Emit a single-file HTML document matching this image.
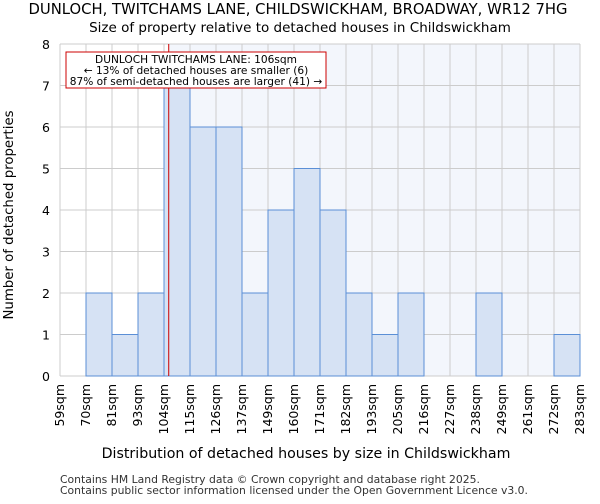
<!DOCTYPE html>
<html><head><meta charset="utf-8"><style>
body{margin:0;background:#fff;font-family:"DejaVu Sans","Liberation Sans",sans-serif}
</style></head><body>
<svg width="600" height="500" xmlns="http://www.w3.org/2000/svg" font-family="DejaVu Sans, Liberation Sans, sans-serif">
<text x="298" y="14" text-anchor="middle" font-size="14.8">DUNLOCH, TWITCHAMS LANE, CHILDSWICKHAM, BROADWAY, WR12 7HG</text>
<text x="300" y="32" text-anchor="middle" font-size="13.5">Size of property relative to detached houses in Childswickham</text>
<g id="plot"></g>
<text x="306" y="458" text-anchor="middle" font-size="14.2">Distribution of detached houses by size in Childswickham</text>
<text transform="translate(13,215) rotate(-90)" text-anchor="middle" font-size="13.3">Number of detached properties</text>
<text x="60" y="483" font-size="10.8" fill="#333">Contains HM Land Registry data © Crown copyright and database right 2025.</text>
<text x="60" y="494" font-size="10.8" fill="#333">Contains public sector information licensed under the Open Government Licence v3.0.</text>
</svg>
<script>
const binEdges=[59,70,81,93,104,115,126,137,149,160,171,182,193,205,216,227,238,249,261,272,283];
const counts=[0,2,1,2,7,6,6,2,4,5,4,2,1,2,0,0,2,0,0,1];
const yTicks=[0,1,2,3,4,5,6,7,8];
const propertySize=106;
const X0=60,X1=580,Y0=376,Y1=44;
const NS="http://www.w3.org/2000/svg";
const g=document.getElementById('plot');
const nb=binEdges.length-1;
function xi(i){return X0+(X1-X0)*i/nb;}
function xv(v){for(let i=0;i<nb;i++){if(v<=binEdges[i+1]){return xi(i)+(xi(i+1)-xi(i))*(v-binEdges[i])/(binEdges[i+1]-binEdges[i]);}}return X1;}
function y(v){return Y0-(Y0-Y1)*v/8;}
function mk(t,a){const e=document.createElementNS(NS,t);for(const k in a)e.setAttribute(k,a[k]);g.appendChild(e);return e;}
const px=xv(propertySize);
let e=mk('rect',{x:px,y:Y1,width:X1-px,height:Y0-Y1,fill:'#f3f6fc'});


for(let i=0;i<=nb;i++){e=mk('line',{x1:xi(i),x2:xi(i),y1:Y1,y2:Y0,stroke:'#cccccc','stroke-width':1});

}
yTicks.forEach(t=>{e=mk('line',{x1:X0,x2:X1,y1:y(t),y2:y(t),stroke:'#cccccc','stroke-width':1});


e=mk('text',{x:X0-10,y:y(t)+5,'text-anchor':'end','font-size':'12.5'});e.textContent=t;

});
counts.forEach((c,i)=>{if(c>0){e=mk('rect',{x:xi(i),y:y(c),width:xi(i+1)-xi(i),height:Y0-y(c),fill:'#d6e2f4',stroke:'#5b8fd6','stroke-width':1});

}});
binEdges.forEach((b,i)=>{const x=xi(i);e=mk('text',{transform:`translate(${x+4},384) rotate(-90)`,'text-anchor':'end','font-size':'12.5'});e.textContent=b+'sqm';

});
e=mk('line',{x1:px,x2:px,y1:Y1,y2:Y0,stroke:'#cc0000','stroke-width':1});


e=mk('rect',{x:66,y:52,width:260,height:36,fill:'#fff',stroke:'#cc0000','stroke-width':1});


["DUNLOCH TWITCHAMS LANE: 106sqm","← 13% of detached houses are smaller (6)","87% of semi-detached houses are larger (41) →"].forEach((s,i)=>{e=mk('text',{x:196,y:63+i*11,'text-anchor':'middle','font-size':'10.6'});e.textContent=s;

});
</script>
</body></html>
